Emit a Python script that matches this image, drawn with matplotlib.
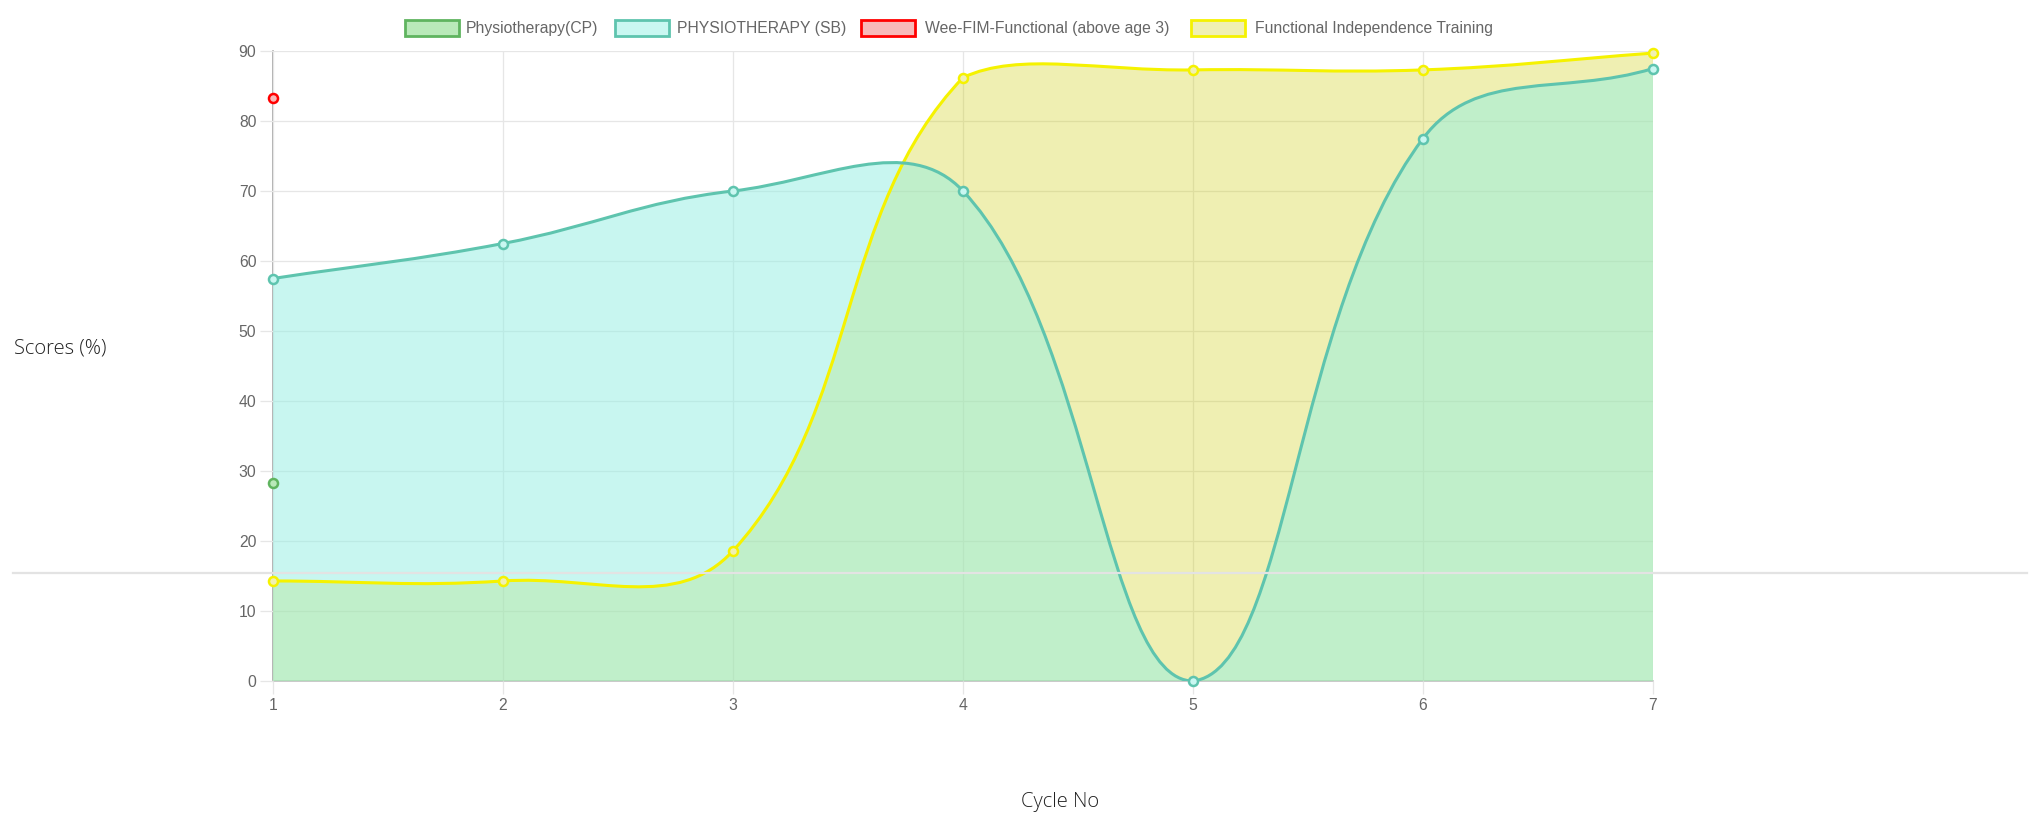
import numpy as np
import matplotlib
matplotlib.use('Agg')
import matplotlib.pyplot as plt
from matplotlib.path import Path
from matplotlib.patches import PathPatch, Rectangle
from matplotlib.lines import Line2D

# ---------------- data ----------------
cycles = [1, 2, 3, 4, 5, 6, 7]
x_labels = ['1', '2', '3', '4', '5', '6', '7']
y_ticks = [0, 10, 20, 30, 40, 50, 60, 70, 80, 90]

physio_cp = [28.3, None, None, None, None, None, None]
physio_sb = [57.5, 62.5, 70.0, 70.0, 0.0, 77.5, 87.5]
wee_fim = [83.3, None, None, None, None, None, None]
fit = [14.29, 14.29, 18.6, 86.2, 87.3, 87.3, 89.7]

names = ['Physiotherapy(CP)', 'PHYSIOTHERAPY (SB)',
         'Wee-FIM-Functional (above age 3)', 'Functional Independence Training']

# ---------------- styles ----------------
border = ['#5fb45f', '#5ec4ae', '#ff0000', '#f5f200']
fill = [(0.45, 0.80, 0.45, 0.5), (147/255, 239/255, 227/255, 0.5),
        (1.0, 0.45, 0.45, 0.5), (204/255, 204/255, 0, 0.3)]
legend_fill = ['#b9e9b9', '#c9f7f1', '#f8b9b9', '#f0f0b3']
grid_c = '#e6e6e6'

W, H = 2036, 815
fig = plt.figure(figsize=(W / 100, H / 100), dpi=100)
L, R, T, B = 273, 1653, 51, 681
ax = fig.add_axes([L / W, 1 - B / H, (R - L) / W, (B - T) / H])
ax.set_xlim(1, 7)
ax.set_ylim(0, 90)
for s in ax.spines.values():
    s.set_visible(False)

ax.set_xticks(cycles)
ax.set_xticklabels(x_labels)
ax.set_yticks(y_ticks)
ax.tick_params(axis='both', color=grid_c, length=9.4, width=0.94,
               labelcolor='#666666', labelsize=11.3, pad=2.5)
for lab in ax.get_xticklabels() + ax.get_yticklabels():
    lab.set_fontfamily('Liberation Sans')
ax.grid(True, color=grid_c, linewidth=0.94, zorder=0)
ax.set_axisbelow(True)
ax.axvline(1, color='#a8a8a8', lw=1.2, zorder=0.5, clip_on=False)
ax.axhline(0, color='#c0c0c0', lw=1.2, zorder=0.5, clip_on=False)


def spline(xs, ys, tension=0.4):
    pts = ax.transData.transform(np.column_stack([xs, ys]).astype(float))
    bb = ax.bbox
    n = len(pts)
    cps = []
    for i in range(n):
        cur = pts[i]
        prev = pts[i - 1] if i > 0 else cur
        nxt = pts[i + 1] if i < n - 1 else cur
        d01 = np.hypot(*(cur - prev))
        d12 = np.hypot(*(nxt - cur))
        tot = d01 + d12
        s01 = d01 / tot if tot else 0
        s12 = d12 / tot if tot else 0
        cpp = cur - tension * s01 * (nxt - prev)
        cpn = cur + tension * s12 * (nxt - prev)
        for c in (cpp, cpn):
            c[0] = min(max(c[0], bb.x0), bb.x1)
            c[1] = min(max(c[1], bb.y0), bb.y1)
        cps.append((cpp, cpn))
    verts = [pts[0]]
    codes = [Path.MOVETO]
    for i in range(n - 1):
        verts += [cps[i][1], cps[i + 1][0], pts[i + 1]]
        codes += [Path.CURVE4] * 3
    verts = ax.transData.inverted().transform(np.array(verts))
    return verts, codes


fig.canvas.draw()

# fills (drawn in reverse dataset order, all below the lines)
for idx, vals in [(3, fit), (1, physio_sb)]:
    v, c = spline(cycles, vals)
    fv = list(v) + [(cycles[-1], 0), (cycles[0], 0), (cycles[0], 0)]
    fc = list(c) + [Path.LINETO, Path.LINETO, Path.CLOSEPOLY]
    ax.add_patch(PathPatch(Path(fv, fc), facecolor=fill[idx], edgecolor='none',
                           zorder=1))
for idx, vals in [(3, fit), (1, physio_sb)]:
    v, c = spline(cycles, vals)
    ax.add_patch(PathPatch(Path(v, c), facecolor='none', edgecolor=border[idx],
                           lw=2.2, zorder=2 + (3 - idx) * 0.1, capstyle='round',
                           joinstyle='round'))
    ax.plot(cycles, vals, 'o', ms=6.5, mfc=legend_fill[idx], mec=border[idx],
            mew=1.8, zorder=3 + (3 - idx) * 0.1, clip_on=False)

for idx, vals in [(2, wee_fim), (0, physio_cp)]:
    xs = [x for x, y in zip(cycles, vals) if y is not None]
    ys = [y for y in vals if y is not None]
    ax.plot(xs, ys, 'o', ms=6.5, mfc=legend_fill[idx], mec=border[idx],
            mew=1.8, zorder=4, clip_on=False)

# ---------------- legend ----------------
box_x = [405, 615, 861, 1191]
text_x = [466, 677, 925, 1255]
bw, bh, cy = 54, 16, 28
for i in range(4):
    fig.add_artist(Rectangle((box_x[i] / W, 1 - (cy + bh / 2) / H), bw / W, bh / H,
                             transform=fig.transFigure, facecolor=legend_fill[i],
                             edgecolor=border[i], lw=2.0))
    fig.text(text_x[i] / W, 1 - cy / H, names[i], ha='left', va='center',
             fontsize=11.3, color='#666666', family='Liberation Sans')

# ---------------- titles ----------------
fig.text(14 / W, 1 - 349 / H, 'Scores (%)', ha='left', va='center',
         fontsize=14.5, color='#222222', family='Open Sans', fontweight='light')
fig.text(1060 / W, 1 - 802 / H, 'Cycle No', ha='center', va='center',
         fontsize=14.5, color='#222222', family='Open Sans', fontweight='light')

# stray horizontal rule across the page
fig.add_artist(Line2D([13 / W, 2027 / W], [1 - 573 / H, 1 - 573 / H],
                      transform=fig.transFigure, color='#e3e3e3', lw=1.6, zorder=10))

fig.savefig('out.png', dpi=100)
